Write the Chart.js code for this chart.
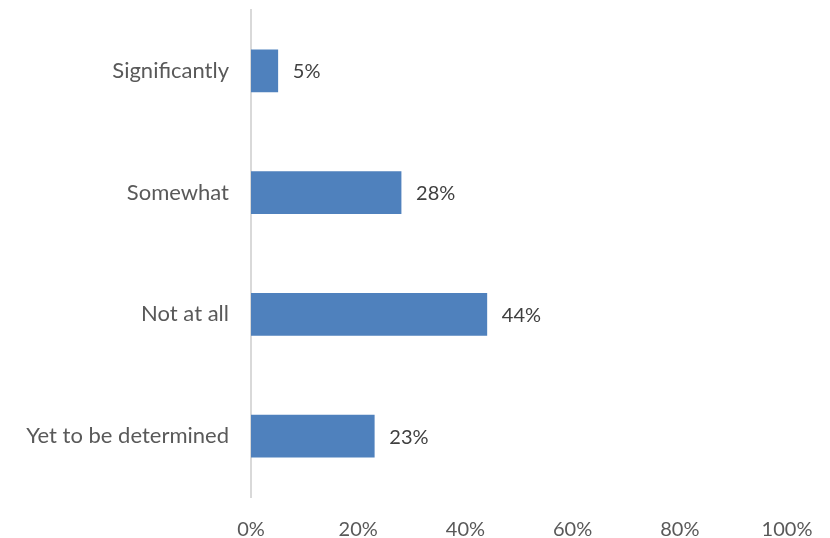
<!DOCTYPE html>
<html>
<head>
<meta charset="utf-8">
<script src="https://cdn.jsdelivr.net/npm/chart.js@4"></script>
<style>
  html, body { margin: 0; padding: 0; background: #fff; }
  #wrap { width: 830px; height: 538px; }
</style>
</head>
<body>
<div id="wrap"><canvas id="chart" width="830" height="538"></canvas></div>
<script>
// data
const categories = ['Significantly', 'Somewhat', 'Not at all', 'Yet to be determined'];
const shares = [5, 28, 44, 23];
const xTicks = [0, 20, 40, 60, 80, 100];

const barColor = '#4F81BD';
const fontFamily = 'Lato, "Open Sans", sans-serif';

// value labels to the right of each bar
const valueLabels = {
    id: 'valueLabels',
    afterDatasetsDraw(chart) {
        const ctx = chart.ctx;
        const meta = chart.getDatasetMeta(0);
        ctx.save();
        ctx.font = '20px ' + fontFamily;
        ctx.fillStyle = '#404040';
        ctx.textAlign = 'left';
        ctx.textBaseline = 'middle';
        meta.data.forEach((bar, i) => {
            ctx.fillText(shares[i] + '%', bar.x + 15, bar.y + 1);
        });
        ctx.restore();
    }
};

const ctx = document.getElementById('chart').getContext('2d');
new Chart(ctx, {
    type: 'bar',
    data: {
        labels: categories,
        datasets: [{
            data: shares,
            backgroundColor: barColor,
            barThickness: 42
        }]
    },
    options: {
        indexAxis: 'y',
        responsive: false,
        animation: false,
        layout: { padding: { top: 10, right: 43, left: 0, bottom: 0 } },
        plugins: {
            legend: { display: false },
            tooltip: { enabled: false }
        },
        scales: {
            x: {
                min: 0,
                max: 100,
                afterBuildTicks: s => { s.ticks = xTicks.map(v => ({ value: v })); },
                afterFit: s => { s.height = 41; },
                grid: { display: false },
                border: { display: false },
                ticks: {
                    padding: 13,
                    color: '#595959',
                    font: { family: fontFamily, size: 20 },
                    callback: v => v + '%'
                }
            },
            y: {
                afterFit: s => { s.width = 251; s.paddingTop = 0; s.paddingBottom = 0; },
                grid: { display: false },
                border: { display: true, color: '#D9D9D9', width: 2 },
                ticks: {
                    padding: 14,
                    color: '#595959',
                    font: { family: fontFamily, size: 22 }
                }
            }
        }
    },
    plugins: [valueLabels]
});
</script>
</body>
</html>
